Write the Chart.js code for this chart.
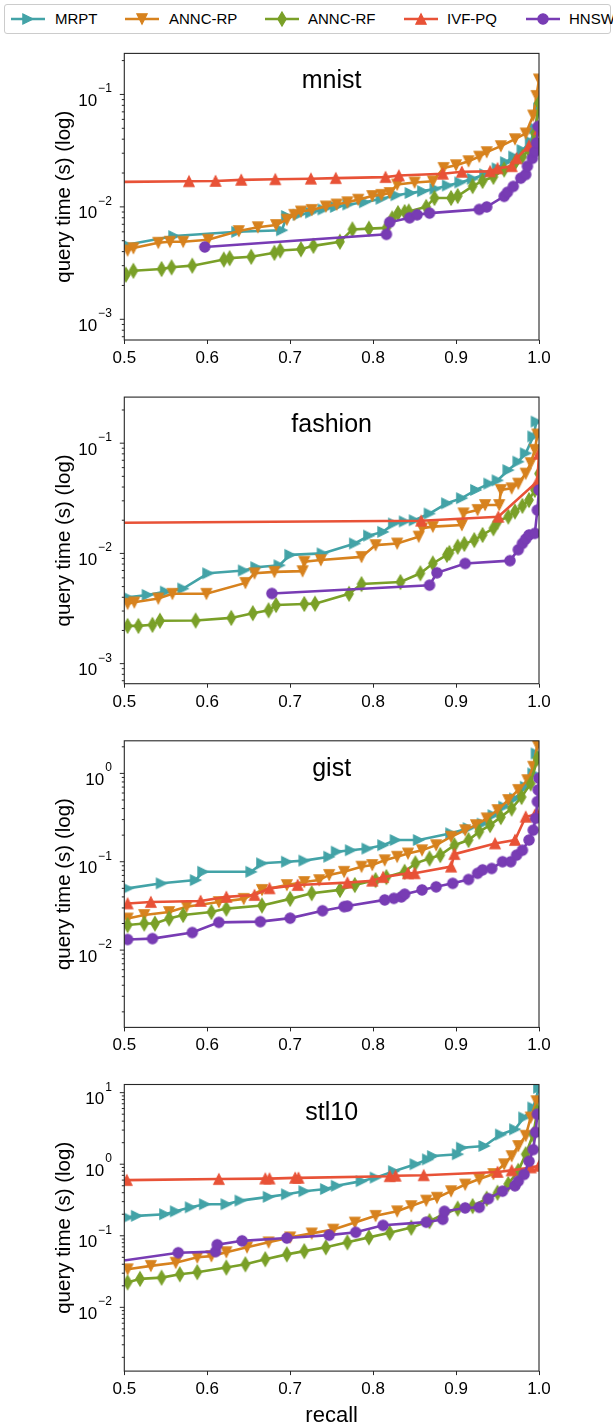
<!DOCTYPE html>
<html><head><meta charset="utf-8">
<script src="https://cdn.jsdelivr.net/npm/chart.js@4.4.0/dist/chart.umd.min.js"></script>
<style>
html,body{margin:0;padding:0;background:#fff;width:613px;height:1424px;overflow:hidden;}
canvas.c{position:absolute;left:0;}
#legend{position:absolute;left:4px;top:4px;width:605px;height:28px;border:1px solid #cccccc;border-radius:3px;font-family:'Liberation Sans',Arial,Helvetica,sans-serif;font-size:15px;color:#000;}
.item{position:absolute;top:0;height:28px;line-height:28px;white-space:nowrap;}
</style></head><body>
<div id="legend"></div>
<canvas class="c" id="c0" width="613" height="340" style="top:43px"></canvas>
<canvas class="c" id="c1" width="613" height="340" style="top:387px"></canvas>
<canvas class="c" id="c2" width="613" height="340" style="top:730px"></canvas>
<canvas class="c" id="c3" width="613" height="350" style="top:1074px"></canvas>
<script>
// ---------- series ----------
const SERIES_NAMES = ['MRPT','ANNC-RP','ANNC-RF','IVF-PQ','HNSW'];
const SERIES_COLORS = ['#43a3a7','#d7821e','#7aa028','#e85237','#783cb4'];
const SERIES_MARKERS = ['triRight','triDown','thinDiamond','triUp','circle'];
const PANEL_TITLES = ['mnist','fashion','gist','stl10'];
const X_TICKS = [0.5,0.6,0.7,0.8,0.9,1.0];

// ---------- mnist ----------
const MNIST_R_MRPT = [0.503,0.56,0.636,0.69,0.696,0.71,0.725,0.74,0.755,0.77,0.79,0.81,0.828,0.845,0.86,0.875,0.89,0.905,0.92,0.935,0.95,0.96,0.97,0.98,0.99,0.995,1.0];
const MNIST_T_MRPT = [0.0046,0.0055,0.006,0.0062,0.0083,0.0085,0.0089,0.0095,0.01,0.0105,0.011,0.0118,0.0127,0.0133,0.0138,0.0145,0.0155,0.0165,0.0178,0.0195,0.022,0.025,0.028,0.032,0.038,0.05,0.075];
const MNIST_R_RP = [0.504,0.511,0.541,0.555,0.571,0.601,0.638,0.661,0.683,0.696,0.705,0.713,0.726,0.743,0.756,0.769,0.782,0.799,0.81,0.82,0.829,0.85,0.872,0.885,0.9,0.915,0.928,0.937,0.954,0.971,0.984,0.993,0.997,1.0];
const MNIST_T_RP = [0.0041,0.0043,0.0048,0.0049,0.0049,0.0051,0.0061,0.0066,0.0069,0.0077,0.0085,0.0091,0.0094,0.0101,0.0105,0.011,0.0116,0.0125,0.0128,0.0133,0.0158,0.0165,0.0169,0.0222,0.0235,0.0255,0.028,0.0307,0.0347,0.04,0.045,0.065,0.097,0.136];
const MNIST_R_RF = [0.502,0.511,0.545,0.557,0.582,0.62,0.627,0.653,0.681,0.688,0.713,0.728,0.76,0.775,0.795,0.816,0.823,0.83,0.838,0.843,0.864,0.874,0.894,0.902,0.92,0.932,0.945,0.958,0.971,0.98,0.988,0.995,1.0];
const MNIST_T_RF = [0.0025,0.0027,0.0028,0.0029,0.003,0.0034,0.0035,0.0036,0.0039,0.0041,0.0042,0.0045,0.0049,0.0063,0.0064,0.0065,0.0079,0.0088,0.009,0.0091,0.01,0.012,0.012,0.0125,0.0153,0.017,0.0185,0.0215,0.0246,0.028,0.032,0.045,0.084];
const MNIST_R_IVF = [0.44,0.578,0.61,0.641,0.682,0.725,0.755,0.815,0.831,0.884,0.907,0.941,0.95,0.967,0.973,0.988,0.995,1.0];
const MNIST_T_IVF = [0.0165,0.0169,0.017,0.0174,0.0176,0.0178,0.018,0.0184,0.019,0.0197,0.0205,0.0207,0.022,0.023,0.027,0.035,0.036,0.049];
const MNIST_R_HNSW = [0.597,0.816,0.82,0.844,0.853,0.868,0.928,0.937,0.958,0.962,0.969,0.978,0.984,0.986,0.992,0.995,0.997,0.999];
const MNIST_T_HNSW = [0.0044,0.0057,0.0073,0.008,0.0085,0.0088,0.0095,0.01,0.0124,0.0135,0.0152,0.018,0.0194,0.023,0.027,0.031,0.037,0.052];

// ---------- fashion ----------
const FASHION_R_MRPT = [0.504,0.528,0.55,0.571,0.601,0.644,0.659,0.687,0.7,0.739,0.778,0.795,0.812,0.825,0.838,0.85,0.868,0.889,0.907,0.924,0.94,0.95,0.963,0.975,0.984,0.993,0.997];
const FASHION_T_MRPT = [0.004,0.0042,0.0045,0.0048,0.0066,0.007,0.0075,0.0078,0.0097,0.01,0.0123,0.0145,0.0157,0.0187,0.0195,0.02,0.023,0.0285,0.0317,0.0377,0.043,0.046,0.057,0.068,0.081,0.115,0.157];
const FASHION_R_RP = [0.504,0.512,0.541,0.558,0.599,0.646,0.657,0.681,0.715,0.717,0.737,0.786,0.803,0.829,0.855,0.859,0.872,0.907,0.909,0.926,0.935,0.952,0.954,0.967,0.975,0.984,0.99,0.995,0.998];
const FASHION_T_RP = [0.0035,0.0036,0.0039,0.0043,0.0043,0.0054,0.0066,0.0068,0.0069,0.0084,0.0087,0.0093,0.0119,0.0123,0.0142,0.0169,0.0175,0.0181,0.0231,0.0248,0.0275,0.0275,0.0377,0.039,0.043,0.053,0.066,0.087,0.12];
const FASHION_R_RF = [0.504,0.517,0.534,0.543,0.586,0.629,0.655,0.674,0.683,0.717,0.73,0.771,0.786,0.833,0.857,0.872,0.889,0.892,0.902,0.91,0.922,0.932,0.945,0.95,0.963,0.971,0.98,0.988,0.995,1.0];
const FASHION_T_RF = [0.0022,0.0022,0.00225,0.00245,0.00246,0.0026,0.00287,0.00305,0.0034,0.00348,0.0035,0.0043,0.00527,0.0055,0.0066,0.0081,0.0097,0.0101,0.0115,0.0122,0.0132,0.0147,0.0169,0.0194,0.0216,0.024,0.027,0.0305,0.0377,0.053];
const FASHION_R_IVF = [0.43,0.858,0.951,0.998,1.0];
const FASHION_T_IVF = [0.0188,0.0198,0.0215,0.045,0.08];
const FASHION_R_HNSW = [0.678,0.868,0.877,0.911,0.965,0.975,0.98,0.984,0.988,0.995,0.998,1.0];
const FASHION_T_HNSW = [0.00433,0.00515,0.00667,0.0081,0.0086,0.0108,0.0123,0.0135,0.0147,0.0152,0.0247,0.0377];

// ---------- gist ----------
const GIST_R_MRPT = [0.504,0.545,0.586,0.595,0.653,0.666,0.696,0.717,0.747,0.756,0.773,0.793,0.812,0.827,0.855,0.894,0.915,0.932,0.945,0.958,0.971,0.984,0.993,0.997];
const GIST_T_MRPT = [0.05,0.057,0.062,0.077,0.077,0.096,0.1,0.103,0.114,0.13,0.135,0.141,0.154,0.176,0.176,0.21,0.24,0.27,0.337,0.42,0.52,0.706,1.0,1.68];
const GIST_R_RP = [0.504,0.524,0.554,0.575,0.614,0.644,0.666,0.696,0.717,0.735,0.747,0.765,0.786,0.799,0.814,0.829,0.842,0.859,0.876,0.894,0.911,0.924,0.937,0.95,0.963,0.975,0.986,0.993,0.998];
const GIST_T_RP = [0.0228,0.025,0.027,0.031,0.035,0.038,0.048,0.0545,0.059,0.062,0.071,0.077,0.088,0.092,0.104,0.114,0.124,0.135,0.154,0.192,0.228,0.26,0.31,0.385,0.5,0.65,0.84,1.19,2.1];
const GIST_R_RF = [0.504,0.524,0.537,0.554,0.571,0.605,0.623,0.666,0.7,0.726,0.76,0.778,0.803,0.816,0.838,0.851,0.868,0.881,0.898,0.915,0.928,0.941,0.954,0.967,0.979,0.99,0.998];
const GIST_T_RF = [0.0192,0.02,0.02,0.0228,0.025,0.027,0.0295,0.032,0.038,0.044,0.048,0.0545,0.062,0.067,0.077,0.096,0.109,0.119,0.154,0.176,0.219,0.26,0.32,0.4,0.54,0.77,1.48];
const GIST_R_IVF = [0.504,0.532,0.592,0.623,0.657,0.675,0.709,0.769,0.799,0.812,0.842,0.85,0.894,0.898,0.947,0.971,0.984,0.995,0.998];
const GIST_T_IVF = [0.0337,0.035,0.036,0.04,0.042,0.05,0.0545,0.058,0.061,0.067,0.074,0.074,0.088,0.122,0.161,0.176,0.323,0.34,0.35];
const GIST_R_HNSW = [0.504,0.534,0.582,0.614,0.664,0.7,0.739,0.765,0.769,0.814,0.825,0.834,0.838,0.859,0.876,0.896,0.915,0.926,0.932,0.943,0.956,0.966,0.973,0.98,0.988,0.993,0.996,0.998,0.999,1.0];
const GIST_T_HNSW = [0.0132,0.0135,0.0158,0.0206,0.021,0.023,0.0279,0.031,0.0315,0.037,0.0385,0.04,0.043,0.048,0.052,0.057,0.063,0.074,0.081,0.084,0.1,0.1,0.119,0.135,0.176,0.228,0.31,0.48,0.65,0.88];

// ---------- stl10 ----------
const STL_R_MRPT = [0.504,0.515,0.549,0.562,0.58,0.597,0.623,0.64,0.674,0.696,0.717,0.743,0.756,0.786,0.803,0.825,0.851,0.866,0.872,0.902,0.907,0.934,0.954,0.971,0.982,0.993,1.0];
const STL_T_MRPT = [0.18,0.19,0.2,0.22,0.25,0.276,0.276,0.31,0.35,0.38,0.42,0.45,0.5,0.58,0.65,0.8,1.0,1.17,1.3,1.38,1.7,1.8,2.6,3.08,4.5,6.2,11.7];
const STL_R_RP = [0.504,0.532,0.562,0.588,0.605,0.623,0.648,0.674,0.7,0.726,0.752,0.778,0.803,0.829,0.846,0.864,0.877,0.894,0.911,0.928,0.945,0.958,0.967,0.975,0.984,0.99,0.997];
const STL_T_RP = [0.034,0.038,0.042,0.05,0.052,0.059,0.069,0.081,0.095,0.108,0.122,0.153,0.19,0.22,0.26,0.31,0.34,0.42,0.52,0.62,0.73,1.0,1.3,1.8,2.5,4.5,7.6];
const STL_R_RF = [0.504,0.519,0.545,0.567,0.588,0.623,0.646,0.67,0.696,0.717,0.743,0.769,0.795,0.82,0.846,0.868,0.885,0.902,0.92,0.937,0.95,0.963,0.975,0.984,0.993,0.998];
const STL_T_RF = [0.0223,0.025,0.026,0.029,0.031,0.036,0.04,0.047,0.055,0.061,0.069,0.081,0.095,0.11,0.13,0.16,0.2,0.24,0.26,0.33,0.4,0.53,0.81,1.38,2.6,5.5];
const STL_R_IVF = [0.503,0.614,0.67,0.675,0.706,0.71,0.82,0.827,0.861,0.95,0.967,0.99,1.0];
const STL_T_IVF = [0.6,0.62,0.63,0.63,0.645,0.645,0.68,0.69,0.7,0.78,0.82,0.9,0.95];
const STL_R_HNSW = [0.44,0.565,0.61,0.612,0.642,0.696,0.747,0.779,0.812,0.864,0.884,0.886,0.911,0.928,0.939,0.956,0.971,0.975,0.982,0.988,0.993,0.996,0.998];
const STL_T_HNSW = [0.036,0.058,0.06,0.075,0.085,0.093,0.102,0.112,0.14,0.155,0.17,0.22,0.245,0.25,0.33,0.42,0.5,0.58,0.72,1.1,1.6,2.8,5.0];

// y-axis ranges (log10 of min / max)
const Y_LOG_MIN = [-3.184,-3.182,-2.875,-2.891];
const Y_LOG_MAX = [-0.635,-0.582,0.369,1.114];

const PANELS = [
  {R:[MNIST_R_MRPT,MNIST_R_RP,MNIST_R_RF,MNIST_R_IVF,MNIST_R_HNSW], T:[MNIST_T_MRPT,MNIST_T_RP,MNIST_T_RF,MNIST_T_IVF,MNIST_T_HNSW]},
  {R:[FASHION_R_MRPT,FASHION_R_RP,FASHION_R_RF,FASHION_R_IVF,FASHION_R_HNSW], T:[FASHION_T_MRPT,FASHION_T_RP,FASHION_T_RF,FASHION_T_IVF,FASHION_T_HNSW]},
  {R:[GIST_R_MRPT,GIST_R_RP,GIST_R_RF,GIST_R_IVF,GIST_R_HNSW], T:[GIST_T_MRPT,GIST_T_RP,GIST_T_RF,GIST_T_IVF,GIST_T_HNSW]},
  {R:[STL_R_MRPT,STL_R_RP,STL_R_RF,STL_R_IVF,STL_R_HNSW], T:[STL_T_MRPT,STL_T_RP,STL_T_RF,STL_T_IVF,STL_T_HNSW]}
];

// ---------- layout ----------
const FF = "'Liberation Sans', Arial, Helvetica, sans-serif";
const AX_LEFT = 124.3, AX_RIGHT = 539, AX_H = 286.6;
const CANVAS_TOP = [43,387,730,1074];
const AX_TOP = [53.4,397.1,740.8,1084.5];
const CANVAS_H = [340,340,340,350];
const MS = 10.3;

function drawShape(ctx, shape, cx, cy, color) {
  ctx.fillStyle = color; ctx.strokeStyle = color; ctx.lineWidth = 1.2; ctx.lineJoin = 'miter';
  const h = MS / 2;
  ctx.beginPath();
  if (shape === 'circle') { ctx.arc(cx, cy, h, 0, Math.PI * 2); }
  else if (shape === 'triUp') { ctx.moveTo(cx, cy - h); ctx.lineTo(cx + h, cy + h); ctx.lineTo(cx - h, cy + h); ctx.closePath(); }
  else if (shape === 'triDown') { ctx.moveTo(cx, cy + h); ctx.lineTo(cx + h, cy - h); ctx.lineTo(cx - h, cy - h); ctx.closePath(); }
  else if (shape === 'triRight') { ctx.moveTo(cx + h, cy); ctx.lineTo(cx - h, cy - h); ctx.lineTo(cx - h, cy + h); ctx.closePath(); }
  else if (shape === 'thinDiamond') { const dh = MS * 0.68, dw = dh * 0.6; ctx.moveTo(cx, cy - dh); ctx.lineTo(cx + dw, cy); ctx.lineTo(cx, cy + dh); ctx.lineTo(cx - dw, cy); ctx.closePath(); }
  ctx.fill(); ctx.stroke();
}
function markerCanvas(shape, color) {
  const c = document.createElement('canvas'); c.width = 20; c.height = 20;
  drawShape(c.getContext('2d'), shape, 10, 10, color);
  return c;
}

// ---------- legend ----------
const LEG_LINE_X = [6,120,260,399,521];
const LEG_TEXT_X = [50,164,303,442,564];
const legend = document.getElementById('legend');
SERIES_NAMES.forEach((n, i) => {
  const c = document.createElement('canvas'); c.width = 34; c.height = 20;
  c.style.left = LEG_LINE_X[i] + 'px'; c.style.position = 'absolute'; c.style.top = '4px';
  const g = c.getContext('2d');
  g.strokeStyle = SERIES_COLORS[i]; g.lineWidth = 2.6; g.beginPath(); g.moveTo(0, 10); g.lineTo(34, 10); g.stroke();
  drawShape(g, SERIES_MARKERS[i], 17, 10, SERIES_COLORS[i]);
  legend.appendChild(c);
  const s = document.createElement('span'); s.className = 'item'; s.style.left = LEG_TEXT_X[i] + 'px'; s.textContent = n;
  legend.appendChild(s);
});

// ---------- decoration plugin ----------
const deco = {
  id: 'deco',
  afterDatasetsDraw(chart, args, o) {
    const ctx = chart.ctx, a = chart.chartArea, ys = chart.scales.y;
    ctx.save();
    ctx.strokeStyle = '#262626'; ctx.lineWidth = 1.1;
    ctx.strokeRect(a.left, a.top, a.right - a.left, a.bottom - a.top);
    ctx.lineWidth = 1; ctx.beginPath();
    const e0 = Math.floor(Math.log10(ys.min)), e1 = Math.ceil(Math.log10(ys.max));
    const labels = [];
    for (let e = e0; e <= e1; e++) for (let m = 1; m < 10; m++) {
      const v = m * Math.pow(10, e);
      if (v < ys.min || v > ys.max) continue;
      const py = ys.getPixelForValue(v);
      const len = m === 1 ? 4.5 : 2.5;
      ctx.moveTo(a.left, py); ctx.lineTo(a.left - len, py);
      if (m === 1) labels.push([e, py]);
    }
    ctx.stroke();
    ctx.fillStyle = '#000'; ctx.textAlign = 'right'; ctx.textBaseline = 'alphabetic';
    labels.forEach(([e, py]) => {
      const ex = e < 0 ? '\u2212' + (-e) : String(e);
      ctx.font = '12px ' + FF; const we = ctx.measureText(ex).width;
      ctx.fillText(ex, a.left - 12.5, py - 2);
      ctx.font = '17px ' + FF;
      ctx.fillText('10', a.left - 12.5 - we - 1, py + 11.5);
    });
    ctx.textAlign = 'center';
    ctx.font = '25px ' + FF;
    ctx.fillText(o.title, (a.left + a.right) / 2, a.top + 35);
    if (o.xlabel) { ctx.font = '22px ' + FF; ctx.fillText(o.xlabel, (a.left + a.right) / 2, o.xlabelY); }
    ctx.translate(64, (a.top + a.bottom) / 2); ctx.rotate(-Math.PI / 2);
    ctx.font = '20.5px ' + FF; ctx.textBaseline = 'middle';
    ctx.fillText('query time (s) (log)', 0, 0);
    ctx.restore();
  }
};

PANELS.forEach((p, k) => {
  const padTop = AX_TOP[k] - CANVAS_TOP[k];
  const xh = CANVAS_H[k] - padTop - AX_H;
  const datasets = SERIES_NAMES.map((n, i) => ({
    label: n,
    data: p.R[i].map((r, j) => ({x: r, y: p.T[i][j]})),
    borderColor: SERIES_COLORS[i], backgroundColor: SERIES_COLORS[i],
    borderWidth: 2.6, tension: 0, fill: false,
    pointStyle: markerCanvas(SERIES_MARKERS[i], SERIES_COLORS[i]),
    pointRadius: 5, pointHoverRadius: 5, order: 5 - i
  }));
  new Chart(document.getElementById('c' + k), {
    type: 'line',
    data: {datasets},
    options: {
      responsive: false, maintainAspectRatio: false, animation: false, devicePixelRatio: 1,
      events: [],
      layout: {padding: {top: padTop, right: 613 - AX_RIGHT, left: 0, bottom: 0}},
      plugins: {legend: {display: false}, tooltip: {enabled: false},
        deco: {title: PANEL_TITLES[k], xlabel: k === 3 ? 'recall' : '', xlabelY: 1421.5 - CANVAS_TOP[k]}},
      scales: {
        x: {type: 'linear', min: 0.5, max: 1.0,
          afterFit: s => { s.height = xh; },
          afterBuildTicks: s => { s.ticks = X_TICKS.map(v => ({value: v})); },
          ticks: {callback: v => Number(v).toFixed(1), font: {family: FF, size: 17}, color: '#000', padding: 4, maxRotation: 0, autoSkip: false},
          grid: {display: true, drawOnChartArea: false, drawTicks: true, tickLength: 4, color: '#262626', tickColor: '#262626', tickWidth: 1},
          border: {display: false}},
        y: {type: 'logarithmic', min: Math.pow(10, Y_LOG_MIN[k]), max: Math.pow(10, Y_LOG_MAX[k]),
          afterFit: s => { s.width = AX_LEFT; },
          ticks: {display: false}, grid: {display: false}, border: {display: false}}
      }
    },
    plugins: [deco]
  });
});
</script>
</body></html>
